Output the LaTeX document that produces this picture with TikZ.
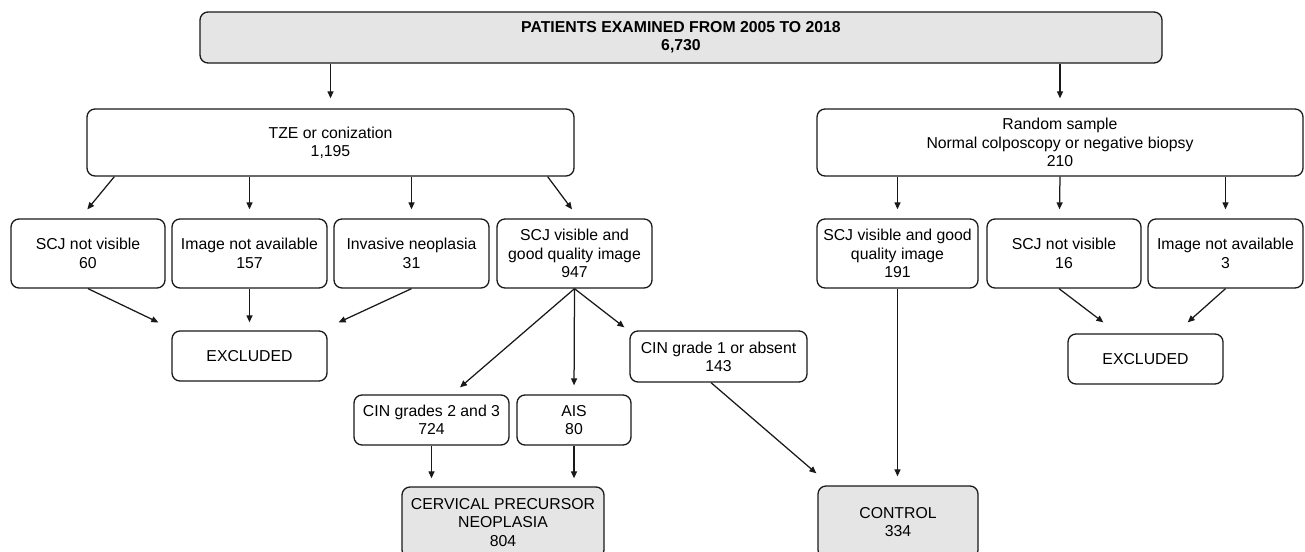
\documentclass[tikz,border=0pt]{standalone}
\usepackage{fontspec}
\setmainfont{Liberation Sans}
\usetikzlibrary{arrows.meta}
\begin{document}
\begin{tikzpicture}[x=1pt,y=-1pt,
  box/.style={draw=black!90, line width=1.3pt, rounded corners=8pt, align=center,
    inner sep=0pt, font=\fontsize{15.8}{18.3}\selectfont},
  gbox/.style={box, fill=black!10},
  arr/.style={line width=1.25pt, draw=black!90, -{Triangle[length=7pt,width=6pt]}},
]
\useasboundingbox (0,0) rectangle (1305,551);
\begin{scope}
\clip (0,0) rectangle (1305,551);
% top
\node[gbox, minimum width=962pt, minimum height=51pt] (top) at (681,37.5)
  {\bfseries PATIENTS EXAMINED FROM 2005 TO 2018\\\bfseries 6,730};
% level 1
\node[box, minimum width=487pt, minimum height=67pt] (tze) at (330.5,142.5) {TZE or conization\\1,195};
\node[box, minimum width=486pt, minimum height=67pt] (rnd) at (1060,142.5) {Random sample\\Normal colposcopy or negative biopsy\\210};
% level 2
\node[box, minimum width=154pt, minimum height=69pt] (scj1) at (88,253.5) {SCJ not visible\\60};
\node[box, minimum width=155pt, minimum height=69pt] (img1) at (249.5,253.5) {Image not available\\157};
\node[box, minimum width=155pt, minimum height=69pt] (inv) at (411.5,253.5) {Invasive neoplasia\\31};
\node[box, minimum width=155pt, minimum height=69pt] (vis) at (574.5,253.5) {SCJ visible and\\good quality image\\947};
\node[box, minimum width=161pt, minimum height=69pt] (vis2) at (897.5,253.5) {SCJ visible and good\\quality image\\191};
\node[box, minimum width=154pt, minimum height=69pt] (scj2) at (1064,253.5) {SCJ not visible\\16};
\node[box, minimum width=155pt, minimum height=69pt] (img2) at (1225.5,253.5) {Image not available\\3};
% excluded
\node[box, minimum width=155pt, minimum height=50pt] (exc1) at (249.5,356) {EXCLUDED};
\node[box, minimum width=155pt, minimum height=50pt] (exc2) at (1145.5,359) {EXCLUDED};
% level 3
\node[box, minimum width=177pt, minimum height=51pt] (cin1) at (718.5,356.5) {CIN grade 1 or absent\\143};
\node[box, minimum width=155pt, minimum height=50pt] (cin23) at (431.5,420) {CIN grades 2 and 3\\724};
\node[box, minimum width=114pt, minimum height=50pt] (ais) at (574,420) {AIS\\80};
% bottom
\node[gbox, minimum width=202pt, minimum height=71pt] (cerv) at (503,522.5) {CERVICAL PRECURSOR\\NEOPLASIA\\804};
\node[gbox, minimum width=160pt, minimum height=72pt] (ctrl) at (898,522) {CONTROL\\334};
% arrows
\draw[arr, shorten >=10pt] (top.south -| tze.north) -- (tze.north);
\draw[arr, shorten >=10pt] (top.south -| rnd.north) -- (rnd.north);
\draw[arr] ([xshift=28pt]tze.south west) -- ([xshift=77pt,yshift=9pt]scj1.north west);
\draw[arr, shorten >=9pt] (tze.south -| img1.north) -- (img1.north);
\draw[arr, shorten >=9pt] (tze.south -| inv.north) -- (inv.north);
\draw[arr] ([xshift=-27pt]tze.south east) -- ([xshift=-2.5pt,yshift=9pt]vis.north);
\draw[arr, shorten >=9pt] (rnd.south -| vis2.north) -- (vis2.north);
\draw[arr] (rnd.south) -- ([xshift=-4.5pt,yshift=9pt]scj2.north);
\draw[arr, shorten >=9pt] (rnd.south -| img2.north) -- (img2.north);
\draw[arr] (scj1.south) -- ([xshift=-13pt,yshift=8pt]exc1.north west);
\draw[arr, shorten >=8pt] (img1.south) -- (exc1.north);
\draw[arr] (inv.south) -- ([xshift=11pt,yshift=8pt]exc1.north east);
\draw[arr] (vis.south) -- ([xshift=28.5pt,yshift=7pt]cin23.north);
\draw[arr, shorten >=9pt] (vis.south) -- (ais.north);
\draw[arr] (vis.south) -- ([xshift=-5pt,yshift=3pt]cin1.north west);
\draw[arr, shorten >=8pt] (cin23.south) -- (cin23.south |- cerv.north);
\draw[arr, shorten >=8pt] (ais.south) -- (ais.south |- cerv.north);
\draw[arr] ([xshift=-7.5pt]cin1.south) -- ([xshift=-1pt,yshift=12pt]ctrl.north west);
\draw[arr, shorten >=9pt] (vis2.south) -- (vis2.south |- ctrl.north);
\draw[arr] ([xshift=-5pt]scj2.south) -- ([xshift=36pt,yshift=11pt]exc2.north west);
\draw[arr] (img2.south) -- ([xshift=-36pt,yshift=11pt]exc2.north east);
\end{scope}
\end{tikzpicture}
\end{document}
